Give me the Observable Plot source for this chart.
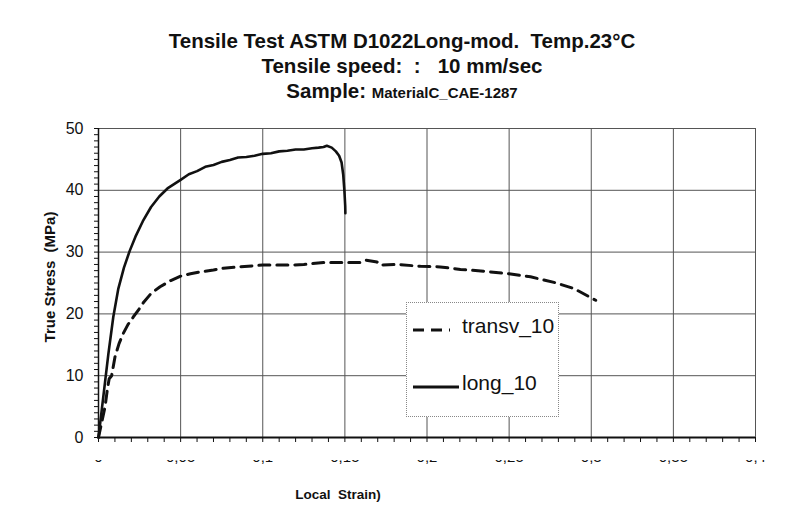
<!DOCTYPE html>
<html>
<head>
<meta charset="utf-8">
<script src="https://cdn.jsdelivr.net/npm/d3@7"></script>
<script src="https://cdn.jsdelivr.net/npm/@observablehq/plot@0.6"></script>
<style>
  html, body { margin: 0; padding: 0; background: #fff; }
  #wrap { position: relative; width: 790px; height: 524px; font-family: "Liberation Sans", Arial, sans-serif; }
  .tl { position: absolute; left: 0; width: 804px; text-align: center; font-weight: bold; font-size: 20.5px; line-height: 20.5px; color: #111; white-space: pre; }
  .tl .small { font-size: 15px; }
  .axlabel { position: absolute; font-weight: bold; color: #111; white-space: pre; }
  #legend { position: absolute; left: 406px; top: 302px; width: 151px; height: 113px; border: 1px dotted #888; background: #fff; }
  #legend svg { position: absolute; left: 0; top: 0; }
  #legend .lt { position: absolute; font-size: 21px; color: #111; white-space: pre; }
</style>
</head>
<body>
<div id="wrap">
  <div id="chart"></div>
  <div class="tl" style="top:31px;">Tensile Test ASTM D1022Long-mod.  Temp.23°C</div>
  <div class="tl" style="top:56px;">Tensile speed:  :   10 mm/sec</div>
  <div class="tl" style="top:81px;">Sample: <span class="small">MaterialC_CAE-1287</span></div>
  <div class="axlabel" id="ylab" style="left:49px; top:277px; font-size:15px; transform: translate(-50%,-50%) rotate(-90deg);">True Stress  (MPa)</div>
  <div class="axlabel" id="xlab" style="left:338px; top:494px; font-size:13.5px; transform: translate(-50%,-50%);">Local  Strain)</div>
  <div id="legend">
    <svg width="151" height="113">
      <line x1="6" x2="43" y1="27" y2="27" stroke="#111" stroke-width="3" stroke-dasharray="11,7"></line>
      <line x1="6" x2="52" y1="84" y2="84" stroke="#111" stroke-width="3"></line>
    </svg>
    <div class="lt" style="left:55px; top:11px;">transv_10</div>
    <div class="lt" style="left:55px; top:68px;">long_10</div>
  </div>
</div>
<script>
// ---- data ----
const longStrain = [0, 0.002, 0.004, 0.006, 0.009, 0.012, 0.0155, 0.019, 0.0225, 0.027, 0.032, 0.037, 0.042, 0.046, 0.05, 0.055, 0.06, 0.065, 0.07, 0.075, 0.08, 0.085, 0.09, 0.095, 0.1, 0.105, 0.11, 0.115, 0.12, 0.125, 0.13, 0.134, 0.137, 0.139, 0.142, 0.1445, 0.1465, 0.148, 0.149, 0.1497, 0.1502, 0.1503];
const longStress = [0, 4.5, 9, 13.5, 19.5, 24, 27.5, 30.2, 32.5, 35, 37.3, 39, 40.3, 41.0, 41.7, 42.6, 43.1, 43.8, 44.1, 44.6, 44.9, 45.3, 45.4, 45.6, 45.9, 46.0, 46.3, 46.4, 46.6, 46.6, 46.8, 46.9, 47.0, 47.2, 46.9, 46.3, 45.6, 44.5, 42.5, 40, 37.5, 36.3];

const transvStrain = [0, 0.002, 0.004, 0.0055, 0.0065, 0.008, 0.010, 0.0125, 0.015, 0.018, 0.0212, 0.0245, 0.0275, 0.032, 0.0375, 0.044, 0.05, 0.056, 0.062, 0.07, 0.076, 0.085, 0.1, 0.11, 0.117, 0.125, 0.137, 0.15, 0.159, 0.163, 0.1696, 0.1716, 0.182, 0.196, 0.208, 0.2204, 0.2346, 0.2499, 0.263, 0.2773, 0.2895, 0.3027];
const transvStress = [0, 2.5, 5, 8, 9.5, 10, 13, 15.2, 16.8, 18.3, 19.5, 20.7, 21.9, 23.3, 24.4, 25.4, 26.1, 26.5, 26.8, 27.1, 27.4, 27.6, 27.9, 27.9, 27.9, 28.0, 28.3, 28.3, 28.3, 28.7, 28.4, 27.9, 28.0, 27.7, 27.6, 27.2, 26.9, 26.5, 26.0, 25.1, 24.1, 22.2];

const xMajorTicks = [0, 0.05, 0.1, 0.15, 0.2, 0.25, 0.3, 0.35, 0.4];
const xTickLabels = ["0", "0,05", "0,1", "0,15", "0,2", "0,25", "0,3", "0,35", "0,4"];
const yMajorTicks = [0, 10, 20, 30, 40, 50];

const longData = longStrain.map((x, i) => ({x, y: longStress[i]}));
const transvData = transvStrain.map((x, i) => ({x, y: transvStress[i]}));

const xMinor = d3.range(0, 41).map(i => i / 100);
const yMinor = d3.range(0, 51);

const chart = Plot.plot({
  width: 790,
  height: 524,
  marginLeft: 98,
  marginRight: 35,
  marginTop: 128,
  marginBottom: 87,
  style: {fontFamily: "'Liberation Sans', Arial, sans-serif", color: "#111", background: "transparent"},
  x: {domain: [0, 0.4]},
  y: {domain: [0, 50]},
  marks: [
    Plot.gridX(xMajorTicks, {stroke: "#555", strokeOpacity: 1, strokeWidth: 1}),
    Plot.gridY(yMajorTicks, {stroke: "#555", strokeOpacity: 1, strokeWidth: 1}),
    Plot.axisX({ticks: xMinor, tickSize: 5, tickFormat: () => "", label: null, stroke: "#111"}),
    Plot.axisY({ticks: yMinor, tickSize: 4, tickFormat: () => "", label: null, stroke: "#111"}),
    Plot.axisY({ticks: yMajorTicks, tickSize: 0, tickPadding: 15, fontSize: 16, label: null}),
    Plot.axisX({ticks: xMajorTicks, tickSize: 0, tickPadding: 14, fontSize: 15, label: null,
      tickFormat: d => xTickLabels[xMajorTicks.findIndex(t => Math.abs(t - d) < 1e-9)]}),
    Plot.ruleX([0], {stroke: "#111", strokeWidth: 1.5}),
    Plot.ruleY([0], {stroke: "#111", strokeWidth: 2}),
    Plot.line(transvData, {x: "x", y: "y", stroke: "#111", strokeWidth: 3, strokeDasharray: "11,7"}),
    Plot.line(longData, {x: "x", y: "y", stroke: "#111", strokeWidth: 2.6})
  ]
});
document.getElementById("chart").appendChild(chart);

// Clip the x tick labels so only their lower edge shows, as in the reference
const svg = d3.select(chart);
svg.append("defs").append("clipPath").attr("id", "xlabclip")
  .append("rect").attr("x", 0).attr("y", 460).attr("width", 790).attr("height", 30);
const labGroups = svg.selectAll('g[aria-label="x-axis tick label"]').nodes();
labGroups.forEach(g => {
  const w = svg.append("g").attr("clip-path", "url(#xlabclip)").node();
  w.appendChild(g);
});
</script>
</body>
</html>
